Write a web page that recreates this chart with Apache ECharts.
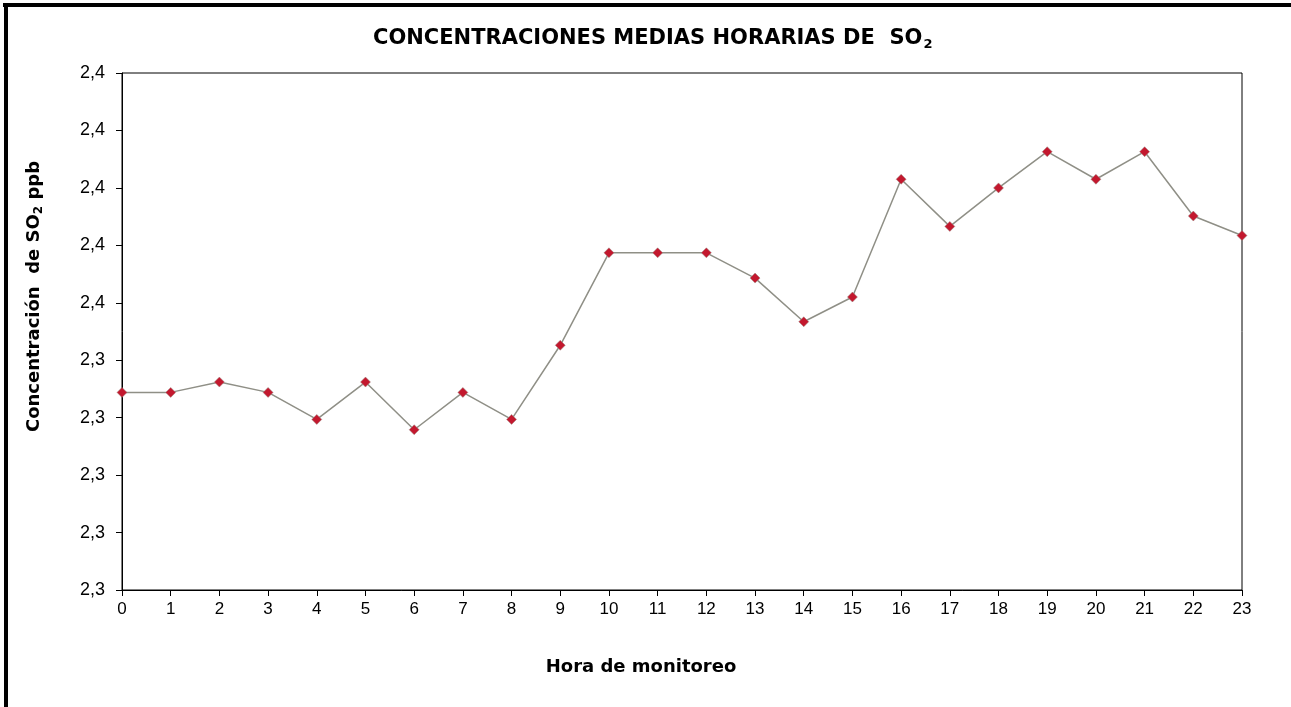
<!DOCTYPE html>
<html lang="es">
<head>
    <meta charset="UTF-8">
    <title>SO2</title>
    <script src="https://cdn.jsdelivr.net/npm/echarts@6/dist/echarts.min.js"></script>
    <style>
        html, body { margin: 0; padding: 0; background: #fff; }
    </style>
</head>
<body>
<div id="box1" style="width: 1291px;height: 707px"></div>
<script>
    // horas de monitoreo y concentraciones medias (ppb)
    var horas = [0, 1, 2, 3, 4, 5, 6, 7, 8, 9, 10, 11, 12, 13, 14, 15, 16, 17, 18, 19, 20, 21, 22, 23];
    var concentracion = [2.3344, 2.3344, 2.3362, 2.3344, 2.3297, 2.3362, 2.3279, 2.3344, 2.3297, 2.3426,
        2.3587, 2.3587, 2.3587, 2.3543, 2.3467, 2.3510, 2.3715, 2.3633, 2.3700, 2.3763,
        2.3715, 2.3763, 2.3651, 2.3617];
    var yMin = 2.30, yMax = 2.39, yStep = 0.01;

    var mychart = echarts.init(document.getElementById("box1"));

    var puntos = horas.map(function (h, i) { return [h, concentracion[i]]; });
    var fuente = '"Liberation Sans", Arial, sans-serif';
    var fuenteB = '"DejaVu Sans", sans-serif';

    var option = {
        backgroundColor: '#fff',
        animation: false,
        title: {
            text: '{t|CONCENTRACIONES MEDIAS HORARIAS DE  SO}{s|2}',
            left: 368,
            top: 21,
            textStyle: {
                rich: {
                    t: { fontFamily: fuenteB, fontWeight: 'bold', fontSize: 21, color: '#000' },
                    s: { fontFamily: fuenteB, fontWeight: 'bold', fontSize: 13, color: '#000', padding: [12, 0, 0, 1] }
                }
            }
        },
        grid: {
            left: 122, right: 49, top: 73, bottom: 117,
            show: true, borderColor: '#000', borderWidth: 1, backgroundColor: '#fff'
        },
        xAxis: {
            type: 'value',
            min: 0, max: 23, interval: 1,
            name: 'Hora de monitoreo',
            nameLocation: 'middle',
            nameGap: 68,
            nameTextStyle: { fontFamily: fuenteB, fontWeight: 'bold', fontSize: 18, color: '#000', padding: [0, 82, 0, 0] },
            axisLine: { lineStyle: { color: '#000', width: 1 } },
            axisTick: { inside: false, length: 6, lineStyle: { color: '#000' } },
            axisLabel: { fontFamily: fuente, fontSize: 17, color: '#000', margin: 11 },
            splitLine: { show: false }
        },
        yAxis: {
            type: 'value',
            min: yMin, max: yMax, interval: yStep,
            name: '{t|Concentración  de SO}{s|2}{t| ppb}',
            nameLocation: 'middle',
            nameRotate: 90,
            nameGap: 77,
            nameTextStyle: {
                padding: [0, 0, 0, 70],
                rich: {
                    t: { fontFamily: fuenteB, fontWeight: 'bold', fontSize: 18, color: '#000' },
                    s: { fontFamily: fuenteB, fontWeight: 'bold', fontSize: 12, color: '#000', padding: [10, 0, 0, 0] }
                }
            },
            axisLine: { show: true, lineStyle: { color: '#000', width: 1 } },
            axisTick: { show: true, inside: false, length: 6, lineStyle: { color: '#000' } },
            axisLabel: {
                fontFamily: fuente, fontSize: 18, color: '#000', margin: 17,
                formatter: function (v) {
                    return (Math.round(v * 10 + 1e-9) / 10).toFixed(1).replace('.', ',');
                }
            },
            splitLine: { show: false }
        },
        series: [{
            type: 'line',
            data: puntos,
            symbol: 'diamond',
            symbolSize: 10,
            lineStyle: { color: '#8f8f86', width: 1.5 },
            itemStyle: { color: '#c3182e', borderColor: '#9a8f88', borderWidth: 0.5 },
            clip: false
        }],
        graphic: [
            { type: 'rect', shape: { x: 3, y: 3, width: 1291, height: 4 }, style: { fill: '#000' } },
            { type: 'rect', shape: { x: 4, y: 3, width: 4, height: 704 }, style: { fill: '#000' } }
        ]
    };
    mychart.setOption(option);
</script>
</body>
</html>
